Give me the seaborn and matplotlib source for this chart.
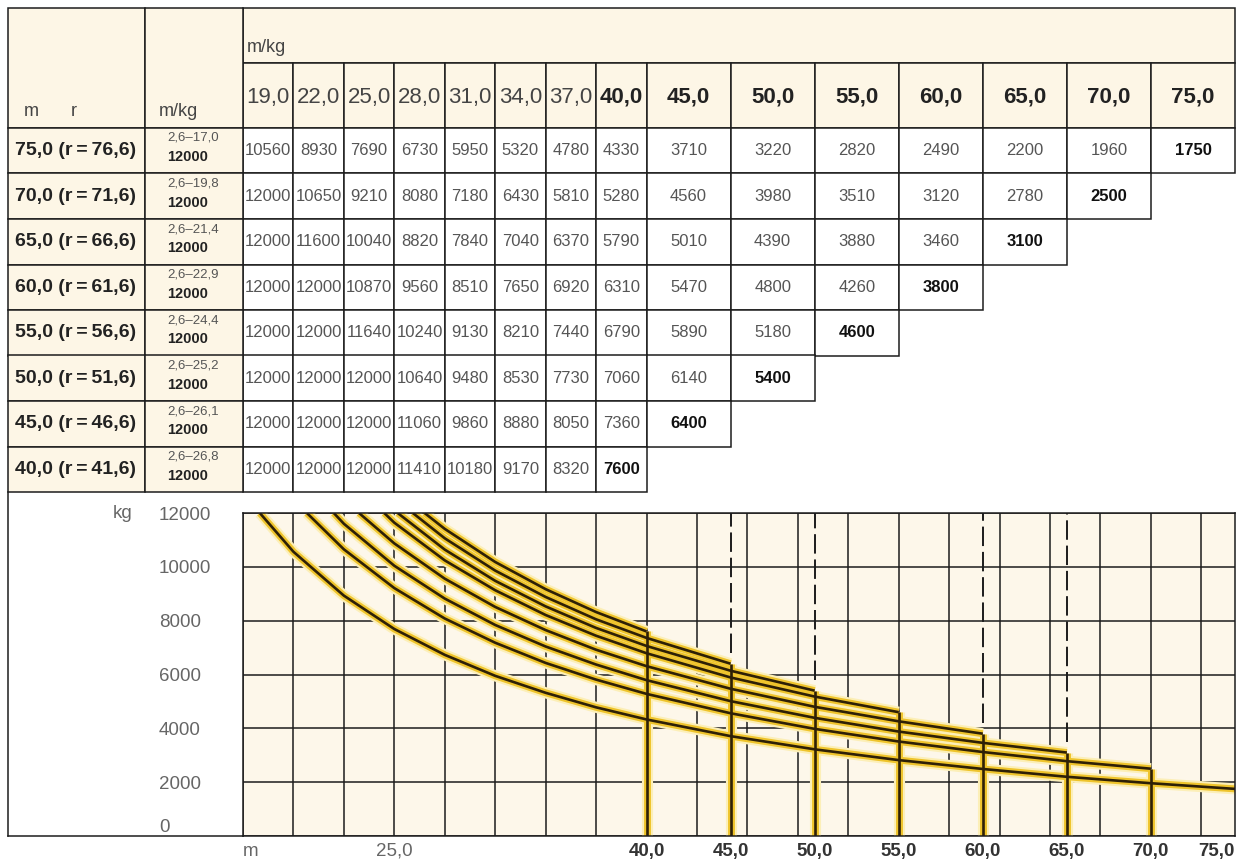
import matplotlib
matplotlib.use("Agg")
import numpy as np
import pandas as pd
import matplotlib.pyplot as plt
from matplotlib.patches import Rectangle
import seaborn as sns

# jib length (m), hook radius r (m), full-load radius range and max load
jibs = [75.0, 70.0, 65.0, 60.0, 55.0, 50.0, 45.0, 40.0]
hook_r = [76.6, 71.6, 66.6, 61.6, 56.6, 51.6, 46.6, 41.6]
r_full = [17.0, 19.8, 21.4, 22.9, 24.4, 25.2, 26.1, 26.8]
r_min = 2.6
max_load = 12000

# radius columns (m)
radii = [19.0, 22.0, 25.0, 28.0, 31.0, 34.0, 37.0, 40.0, 45.0, 50.0, 55.0, 60.0, 65.0, 70.0, 75.0]

# loads (kg) per jib length, one value per radius up to the jib length
loads_75 = [10560, 8930, 7690, 6730, 5950, 5320, 4780, 4330, 3710, 3220, 2820, 2490, 2200, 1960, 1750]
loads_70 = [12000, 10650, 9210, 8080, 7180, 6430, 5810, 5280, 4560, 3980, 3510, 3120, 2780, 2500]
loads_65 = [12000, 11600, 10040, 8820, 7840, 7040, 6370, 5790, 5010, 4390, 3880, 3460, 3100]
loads_60 = [12000, 12000, 10870, 9560, 8510, 7650, 6920, 6310, 5470, 4800, 4260, 3800]
loads_55 = [12000, 12000, 11640, 10240, 9130, 8210, 7440, 6790, 5890, 5180, 4600]
loads_50 = [12000, 12000, 12000, 10640, 9480, 8530, 7730, 7060, 6140, 5400]
loads_45 = [12000, 12000, 12000, 11060, 9860, 8880, 8050, 7360, 6400]
loads_40 = [12000, 12000, 12000, 11410, 10180, 9170, 8320, 7600]
loads = [loads_75, loads_70, loads_65, loads_60, loads_55, loads_50, loads_45, loads_40]

# chart axis labels
y_ticks = [0, 2000, 4000, 6000, 8000, 10000, 12000]
x_ticks = [16.0, 25.0, 40.0, 45.0, 50.0, 55.0, 60.0, 65.0, 70.0, 75.0]
x_labels = ["m", "25,0", "40,0", "45,0", "50,0", "55,0", "60,0", "65,0", "70,0", "75,0"]


def de(v):
    return f"{v:.1f}".replace(".", ",")


sns.set_style("white")
plt.rcParams["font.family"] = ["Liberation Sans", "DejaVu Sans"]

CREAM = "#fdf6e6"
PLOT_BG = "#fdf7ea"
LINE = "#1c1c1c"
LW = 1.1

W, H = 1237, 863
fig = plt.figure(figsize=(W / 100, H / 100), dpi=100)


def frac(x0, y0, x1, y1):
    # pixel box (top-left origin) -> figure fraction rect
    return [x0 / W, 1 - y1 / H, (x1 - x0) / W, (y1 - y0) / H]


# ---------- chart ----------
ax = fig.add_axes(frac(243, 513, 1235, 836))
ax.set_facecolor(PLOT_BG)
ax.set_xlim(16, 75)
ax.set_ylim(0, 12000)

for xg in np.arange(16, 75, 3):
    ax.axvline(xg, color=LINE, lw=LW, zorder=1)
for yg in y_ticks:
    ax.axhline(yg, color=LINE, lw=LW, zorder=1)

layers = [(8.0, "#fcefb8", 3), (5.0, "#efc42c", 4), (1.9, "#2e2006", 5)]
for jib, rf, row in zip(jibs, r_full, loads):
    xs = [rf] + [r for r, v in zip(radii, row) if r > rf]
    ys = [max_load] + [v for r, v in zip(radii, row) if r > rf]
    for lw, col, z in layers:
        sns.lineplot(x=xs, y=ys, ax=ax, color=col, lw=lw, sort=False,
                     estimator=None, zorder=z, solid_capstyle="butt")
        if jib < radii[-1]:
            ax.vlines(jib, 0, ys[-1], color=col, lw=lw, zorder=z)
    # dashed marker for jib lengths that fall between grid lines
    if jib < radii[-1] and (jib - 16) % 3 != 0:
        ax.vlines(jib, ys[-1] + 400, max_load, color=LINE, lw=1.4,
                  linestyles=(0, (10, 3)), zorder=2)

for s in ax.spines.values():
    s.set_color(LINE)
    s.set_linewidth(LW)
    s.set_zorder(6)

ax.set_yticks(y_ticks)
ax.set_yticklabels([str(v) for v in y_ticks])
ax.tick_params(axis="y", length=0, pad=60.5, labelsize=13.5, labelcolor="#666666")
for lab in ax.get_yticklabels():
    lab.set_ha("left")
ax.get_yticklabels()[0].set_va("bottom")

ax.set_xticks(x_ticks)
ax.set_xticklabels(x_labels)
ax.tick_params(axis="x", length=0, pad=5, labelsize=13.5)
for v, lab in zip(x_ticks, ax.get_xticklabels()):
    if v >= 40:
        lab.set_fontweight("bold")
        lab.set_color("#333333")
    else:
        lab.set_color("#666666")
ax.get_xticklabels()[0].set_ha("left")
ax.get_xticklabels()[-1].set_ha("right")
ax.set_xlabel("")
ax.set_ylabel("")
ax.text(-0.111, 1.0, "kg", transform=ax.transAxes, ha="right", va="center",
        fontsize=13.5, color="#666666")

# frame to the left of the chart
side = fig.add_axes(frac(8, 492, 243, 836))
side.patch.set_visible(False)
side.set_xticks([])
side.set_yticks([])
for k, s in side.spines.items():
    s.set_visible(k in ("left", "bottom"))
    s.set_color(LINE)
    s.set_linewidth(LW)

# ---------- table ----------
TAB_H = 484
H1, H2 = 55, 120
row_h = (TAB_H - H2) / len(jibs)

tab = fig.add_axes(frac(243, 8, 1235, 492), sharex=ax)
tab.set_ylim(TAB_H, 0)
tab.axis("off")

edges = [radii[0] - (radii[1] - radii[0])] + radii


def cell(a, x0, y0, w, h, fc):
    a.add_patch(Rectangle((x0, y0), w, h, facecolor=fc, edgecolor=LINE,
                          lw=LW, clip_on=False, zorder=2))


cell(tab, edges[0], 0, edges[-1] - edges[0], H1, CREAM)
tab.text(edges[0] + 0.25, 39, "m/kg", fontsize=13, color="#444444",
         ha="left", va="center")
for i, r in enumerate(radii):
    cell(tab, edges[i], H1, edges[i + 1] - edges[i], H2 - H1, CREAM)
    tab.text((edges[i] + edges[i + 1]) / 2, 89, de(r), fontsize=16,
             ha="center", va="center",
             fontweight="bold" if r >= 40 else "normal",
             color="#222222" if r >= 40 else "#444444")

for j, row in enumerate(loads):
    y0 = H2 + j * row_h
    for i, v in enumerate(row):
        last = i == len(row) - 1
        cell(tab, edges[i], y0, edges[i + 1] - edges[i], row_h, "white")
        tab.text((edges[i] + edges[i + 1]) / 2, y0 + row_h / 2, str(v),
                 fontsize=12, ha="center", va="center",
                 fontweight="bold" if last else "normal",
                 color="#111111" if last else "#555555")

# row label columns
lab_ax = fig.add_axes(frac(8, 8, 243, 492))
lab_ax.set_xlim(0, 235)
lab_ax.set_ylim(TAB_H, 0)
lab_ax.axis("off")
cell(lab_ax, 0, 0, 137, H2, CREAM)
cell(lab_ax, 137, 0, 98, H2, CREAM)
lab_ax.text(16, 104, "m", fontsize=13, color="#444444", va="center")
lab_ax.text(63, 104, "r", fontsize=13, color="#444444", va="center")
lab_ax.text(151, 104, "m/kg", fontsize=13, color="#444444", va="center")
for j, (jib, hr, rf) in enumerate(zip(jibs, hook_r, r_full)):
    y0 = H2 + j * row_h
    cell(lab_ax, 0, y0, 137, row_h, CREAM)
    cell(lab_ax, 137, y0, 98, row_h, CREAM)
    lab_ax.text(7, y0 + row_h / 2, f"{de(jib)} (r\u2009=\u2009{de(hr)})",
                fontsize=14, fontweight="bold", color="#222222",
                ha="left", va="center")
    lab_ax.text(159, y0 + 10, f"{de(r_min)}\u2013{de(rf)}", fontsize=9.5,
                color="#555555", ha="left", va="center")
    lab_ax.text(159, y0 + 29, str(max_load), fontsize=10.5, fontweight="bold",
                color="#222222", ha="left", va="center")

fig.savefig("out.png", dpi=100)
